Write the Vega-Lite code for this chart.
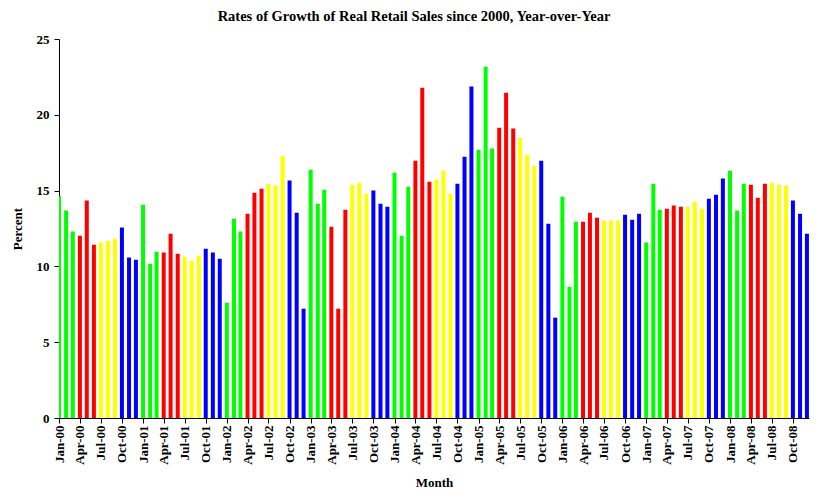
{
  "$schema": "https://vega.github.io/schema/vega-lite/v6.json",
  "autosize": "none",
  "width": 750,
  "height": 379,
  "padding": {"left": 59, "top": 39, "right": 15, "bottom": 80},
  "background": "white",
  "title": {
    "text": "Rates of Growth of Real Retail Sales since 2000, Year-over-Year",
    "font": "Liberation Serif",
    "fontSize": 14.5,
    "fontWeight": "bold",
    "color": "black",
    "anchor": "middle",
    "offset": 9,
    "dx": -20
  },
  "data": {
    "values": [
      {"month": "2000/01/01", "pct": 14.62}, {"month": "2000/02/01", "pct": 13.68}, {"month": "2000/03/01", "pct": 12.31},
      {"month": "2000/04/01", "pct": 12.03}, {"month": "2000/05/01", "pct": 14.34}, {"month": "2000/06/01", "pct": 11.43},
      {"month": "2000/07/01", "pct": 11.57}, {"month": "2000/08/01", "pct": 11.70}, {"month": "2000/09/01", "pct": 11.83},
      {"month": "2000/10/01", "pct": 12.56}, {"month": "2000/11/01", "pct": 10.58}, {"month": "2000/12/01", "pct": 10.44},
      {"month": "2001/01/01", "pct": 14.07}, {"month": "2001/02/01", "pct": 10.18}, {"month": "2001/03/01", "pct": 10.97},
      {"month": "2001/04/01", "pct": 10.91}, {"month": "2001/05/01", "pct": 12.16}, {"month": "2001/06/01", "pct": 10.84},
      {"month": "2001/07/01", "pct": 10.64}, {"month": "2001/08/01", "pct": 10.38}, {"month": "2001/09/01", "pct": 10.71},
      {"month": "2001/10/01", "pct": 11.17}, {"month": "2001/11/01", "pct": 10.91}, {"month": "2001/12/01", "pct": 10.51},
      {"month": "2002/01/01", "pct": 7.61}, {"month": "2002/02/01", "pct": 13.15}, {"month": "2002/03/01", "pct": 12.31},
      {"month": "2002/04/01", "pct": 13.48}, {"month": "2002/05/01", "pct": 14.86}, {"month": "2002/06/01", "pct": 15.13},
      {"month": "2002/07/01", "pct": 15.46}, {"month": "2002/08/01", "pct": 15.35}, {"month": "2002/09/01", "pct": 17.30},
      {"month": "2002/10/01", "pct": 15.66}, {"month": "2002/11/01", "pct": 13.54}, {"month": "2002/12/01", "pct": 7.21},
      {"month": "2003/01/01", "pct": 16.38}, {"month": "2003/02/01", "pct": 14.14}, {"month": "2003/03/01", "pct": 15.06},
      {"month": "2003/04/01", "pct": 12.62}, {"month": "2003/05/01", "pct": 7.21}, {"month": "2003/06/01", "pct": 13.74},
      {"month": "2003/07/01", "pct": 15.39}, {"month": "2003/08/01", "pct": 15.52}, {"month": "2003/09/01", "pct": 14.80},
      {"month": "2003/10/01", "pct": 15.00}, {"month": "2003/11/01", "pct": 14.14}, {"month": "2003/12/01", "pct": 13.94},
      {"month": "2004/01/01", "pct": 16.18}, {"month": "2004/02/01", "pct": 12.03}, {"month": "2004/03/01", "pct": 15.26},
      {"month": "2004/04/01", "pct": 16.97}, {"month": "2004/05/01", "pct": 21.79}, {"month": "2004/06/01", "pct": 15.59},
      {"month": "2004/07/01", "pct": 15.72}, {"month": "2004/08/01", "pct": 16.31}, {"month": "2004/09/01", "pct": 14.80},
      {"month": "2004/10/01", "pct": 15.46}, {"month": "2004/11/01", "pct": 17.24}, {"month": "2004/12/01", "pct": 21.86},
      {"month": "2005/01/01", "pct": 17.70}, {"month": "2005/02/01", "pct": 23.17}, {"month": "2005/03/01", "pct": 17.77},
      {"month": "2005/04/01", "pct": 19.15}, {"month": "2005/05/01", "pct": 21.46}, {"month": "2005/06/01", "pct": 19.09},
      {"month": "2005/07/01", "pct": 18.49}, {"month": "2005/08/01", "pct": 17.37}, {"month": "2005/09/01", "pct": 16.64},
      {"month": "2005/10/01", "pct": 16.97}, {"month": "2005/11/01", "pct": 12.82}, {"month": "2005/12/01", "pct": 6.62},
      {"month": "2006/01/01", "pct": 14.60}, {"month": "2006/02/01", "pct": 8.66}, {"month": "2006/03/01", "pct": 12.95},
      {"month": "2006/04/01", "pct": 12.95}, {"month": "2006/05/01", "pct": 13.54}, {"month": "2006/06/01", "pct": 13.21},
      {"month": "2006/07/01", "pct": 13.02}, {"month": "2006/08/01", "pct": 13.02}, {"month": "2006/09/01", "pct": 13.02},
      {"month": "2006/10/01", "pct": 13.41}, {"month": "2006/11/01", "pct": 13.08}, {"month": "2006/12/01", "pct": 13.48},
      {"month": "2007/01/01", "pct": 11.57}, {"month": "2007/02/01", "pct": 15.46}, {"month": "2007/03/01", "pct": 13.74},
      {"month": "2007/04/01", "pct": 13.81}, {"month": "2007/05/01", "pct": 14.01}, {"month": "2007/06/01", "pct": 13.94},
      {"month": "2007/07/01", "pct": 13.94}, {"month": "2007/08/01", "pct": 14.27}, {"month": "2007/09/01", "pct": 13.81},
      {"month": "2007/10/01", "pct": 14.47}, {"month": "2007/11/01", "pct": 14.73}, {"month": "2007/12/01", "pct": 15.79},
      {"month": "2008/01/01", "pct": 16.31}, {"month": "2008/02/01", "pct": 13.68}, {"month": "2008/03/01", "pct": 15.46},
      {"month": "2008/04/01", "pct": 15.39}, {"month": "2008/05/01", "pct": 14.53}, {"month": "2008/06/01", "pct": 15.46},
      {"month": "2008/07/01", "pct": 15.52}, {"month": "2008/08/01", "pct": 15.39}, {"month": "2008/09/01", "pct": 15.33},
      {"month": "2008/10/01", "pct": 14.34}, {"month": "2008/11/01", "pct": 13.48}, {"month": "2008/12/01", "pct": 12.16}
    ]
  },
  "mark": {"type": "bar", "width": 4, "clip": true},
  "encoding": {
    "x": {
      "field": "month",
      "type": "temporal",
      "title": "Month",
      "scale": {"domain": [{"year": 2000, "month": 1, "date": 1}, {"year": 2008, "month": 12, "date": 10}], "nice": false, "padding": 0},
      "axis": {
        "format": "%b-%y",
        "tickCount": {"interval": "month", "step": 3},
        "labelAngle": -90,
        "labelPadding": 2,
        "tickSize": 5,
        "titlePadding": 12,
        "labelOverlap": false,
        "labelFlush": false
      }
    },
    "y": {
      "field": "pct",
      "type": "quantitative",
      "title": "Percent",
      "scale": {"domain": [0, 25], "nice": false},
      "axis": {
        "values": [0, 5, 10, 15, 20, 25],
        "tickSize": 5,
        "labelPadding": 5,
        "titlePadding": 12
      }
    },
    "color": {
      "field": "month",
      "timeUnit": "quarter",
      "type": "ordinal",
      "scale": {"range": ["#00ff00", "#ff0000", "#ffff00", "#0000ff"]},
      "legend": null
    }
  },
  "config": {
    "view": {"stroke": null},
    "axis": {
      "grid": false,
      "domainColor": "black",
      "tickColor": "black",
      "labelColor": "black",
      "titleColor": "black",
      "labelFont": "Liberation Serif",
      "titleFont": "Liberation Serif",
      "labelFontSize": 13,
      "titleFontSize": 13,
      "labelFontWeight": "bold",
      "titleFontWeight": "bold"
    }
  }
}
